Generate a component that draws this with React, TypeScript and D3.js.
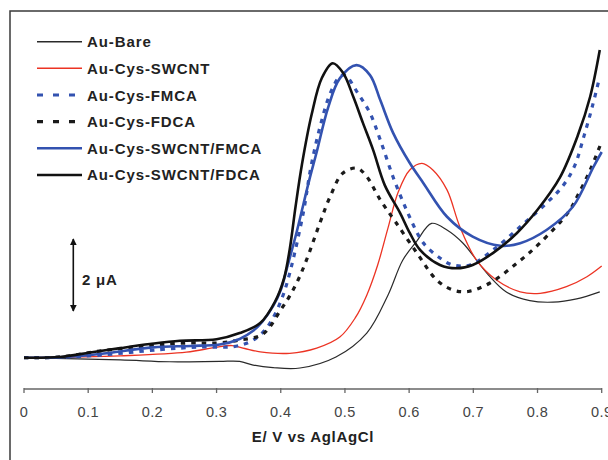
import React from "react";
import * as d3 from "d3";

type P = [number, number];

const xTicks = [0, 0.1, 0.2, 0.3, 0.4, 0.5, 0.6, 0.7, 0.8, 0.9];
const xTickLabels = ["0", "0.1", "0.2", "0.3", "0.4", "0.5", "0.6", "0.7", "0.8", "0.9"];

const seriesNames = [
  "Au-Bare",
  "Au-Cys-SWCNT",
  "Au-Cys-FMCA",
  "Au-Cys-FDCA",
  "Au-Cys-SWCNT/FMCA",
  "Au-Cys-SWCNT/FDCA",
];

// E (V vs Ag|AgCl), I (µA, relative)
const auBare: P[] = [
  [0, 0], [0.15, -0.06], [0.227, -0.11], [0.305, -0.1], [0.336, -0.1], [0.357, -0.2],
  [0.388, -0.27], [0.43, -0.28], [0.486, 0.02], [0.534, 0.67], [0.567, 1.7], [0.59, 2.65],
  [0.612, 3.17], [0.635, 3.65], [0.659, 3.47], [0.684, 3.11], [0.721, 2.3], [0.752, 1.78],
  [0.788, 1.55], [0.824, 1.51], [0.861, 1.6], [0.897, 1.79],
];
const auSwcnt: P[] = [
  [0, 0], [0.087, 0.02], [0.15, 0.05], [0.253, 0.15], [0.298, 0.28], [0.324, 0.33],
  [0.344, 0.25], [0.368, 0.16], [0.414, 0.12], [0.456, 0.26], [0.492, 0.56], [0.516, 1.08],
  [0.534, 1.7], [0.551, 2.52], [0.567, 3.52], [0.583, 4.5], [0.601, 5.1], [0.62, 5.28],
  [0.637, 5.1], [0.659, 4.56], [0.679, 3.56], [0.705, 2.65], [0.736, 2.11], [0.773, 1.79],
  [0.804, 1.75], [0.845, 1.93], [0.877, 2.2], [0.9, 2.49],
];
const auFmca: P[] = [
  [0, 0], [0.056, 0.01], [0.118, 0.07], [0.212, 0.22], [0.274, 0.29], [0.326, 0.3],
  [0.352, 0.43], [0.371, 0.67], [0.386, 1.02], [0.402, 1.62], [0.414, 2.3], [0.435, 3.93],
  [0.447, 5.18], [0.461, 6.26], [0.477, 7.18], [0.492, 7.64], [0.5, 7.68], [0.52, 7.19],
  [0.539, 6.65], [0.555, 5.92], [0.575, 4.91], [0.596, 4.01], [0.617, 3.25], [0.627, 3.02],
  [0.648, 2.71], [0.668, 2.52], [0.695, 2.52], [0.731, 2.93], [0.773, 3.56], [0.814, 4.2],
  [0.84, 4.68], [0.858, 5.22], [0.872, 6.0], [0.885, 6.8], [0.897, 7.64],
];
const auFdca: P[] = [
  [0, 0], [0.056, 0.02], [0.118, 0.18], [0.196, 0.33], [0.254, 0.4], [0.3, 0.4],
  [0.336, 0.48], [0.372, 0.64], [0.4, 1.3], [0.414, 1.68], [0.427, 2.11], [0.44, 2.65],
  [0.461, 3.66], [0.477, 4.38], [0.497, 5.02], [0.519, 5.15], [0.534, 4.92], [0.555, 4.29],
  [0.578, 3.71], [0.612, 2.85], [0.643, 2.11], [0.668, 1.84], [0.692, 1.8], [0.726, 2.03],
  [0.768, 2.57], [0.804, 3.12], [0.847, 3.93], [0.863, 4.42], [0.882, 5.1], [0.899, 5.83],
];
const auSwcntFmca: P[] = [
  [0, 0], [0.056, 0.01], [0.118, 0.1], [0.201, 0.28], [0.259, 0.32], [0.305, 0.36],
  [0.336, 0.51], [0.357, 0.73], [0.371, 0.97], [0.388, 1.4], [0.4, 1.84], [0.411, 2.52],
  [0.424, 3.36], [0.435, 4.15], [0.444, 4.8], [0.456, 5.59], [0.474, 6.81], [0.492, 7.59],
  [0.518, 7.95], [0.539, 7.68], [0.555, 7.0], [0.575, 6.11], [0.601, 5.29], [0.622, 4.75],
  [0.659, 3.83], [0.699, 3.29], [0.742, 3.04], [0.773, 3.11], [0.814, 3.47], [0.855, 4.1],
  [0.887, 5.18], [0.9, 5.59],
];
const auSwcntFdca: P[] = [
  [0, 0], [0.056, 0.02], [0.103, 0.14], [0.15, 0.26], [0.196, 0.37], [0.243, 0.46],
  [0.3, 0.5], [0.336, 0.67], [0.368, 0.94], [0.391, 1.52], [0.405, 2.15], [0.414, 2.95],
  [0.423, 4.1], [0.433, 5.25], [0.448, 6.6], [0.464, 7.6], [0.481, 8.0], [0.497, 7.74],
  [0.513, 7.09], [0.528, 6.38], [0.544, 5.64], [0.562, 4.69], [0.586, 3.93], [0.601, 3.39],
  [0.617, 2.93], [0.648, 2.52], [0.674, 2.43], [0.699, 2.52], [0.731, 2.85], [0.768, 3.39],
  [0.8, 4.02], [0.835, 4.9], [0.863, 6.05], [0.882, 7.09], [0.897, 8.36],
];

const seriesData: P[][] = [auBare, auSwcnt, auFmca, auFdca, auSwcntFmca, auSwcntFdca];
const seriesColors = ["#2a2a2a", "#ec3323", "#3352b0", "#1a1a1a", "#3352b0", "#111111"];
const seriesWidths = [1.2, 1.3, 3.2, 3.2, 2.6, 2.6];
const seriesDash = [null, null, "4.5,6", "4.5,6", null, null];
const legendDash = [null, null, "6,10", "6,10", null, null];

export default function App() {
  const W = 608;
  const H = 460;
  const x = d3.scaleLinear().domain([0, 0.9]).range([24, 601.7]);
  const y = d3.scaleLinear().domain([0, 8]).range([357.7, 63.3]);
  const line = d3
    .line<P>()
    .x((d) => x(d[0]))
    .y((d) => y(d[1]))
    .curve(d3.curveCatmullRom.alpha(0.5));

  const axisY = 389;
  const legendY0 = 41.7;
  const legendDy = 26.65;
  const font = "'Liberation Sans', Arial, Helvetica, sans-serif";

  return (
    <svg
      width={W}
      height={H}
      style={{ position: "absolute", left: 0, top: 0, background: "#fff" }}
      fontFamily={font}
    >
      <rect x={0} y={0} width={W} height={H} fill="#fff" />
      <rect x={10} y={11} width={W + 40} height={H + 40} fill="none" stroke="#3a3a3a" strokeWidth={1.5} />

      {/* curves */}
      {seriesData.map((d, i) => (
        <path
          key={seriesNames[i]}
          d={line(d) || ""}
          fill="none"
          stroke={seriesColors[i]}
          strokeWidth={seriesWidths[i]}
          strokeDasharray={seriesDash[i] || undefined}
          strokeLinejoin="round"
        />
      ))}

      {/* x axis */}
      <line x1={x(0)} x2={x(0.9)} y1={axisY} y2={axisY} stroke="#666" strokeWidth={1.5} />
      {xTicks.map((t, i) => (
        <g key={t}>
          <line x1={x(t)} x2={x(t)} y1={axisY - 1} y2={axisY + 4} stroke="#666" strokeWidth={1.3} />
          <text x={x(t)} y={417} textAnchor="middle" fontSize={14.5} letterSpacing={0.4} fill="#444">
            {xTickLabels[i]}
          </text>
        </g>
      ))}
      <text x={313} y={442} textAnchor="middle" fontSize={15} letterSpacing={0.7} fontWeight="bold" fill="#222">
        E/ V vs AglAgCl
      </text>

      {/* legend */}
      {seriesNames.map((n, i) => {
        const ly = legendY0 + i * legendDy;
        return (
          <g key={n}>
            <line
              x1={37}
              x2={82}
              y1={ly}
              y2={ly}
              stroke={seriesColors[i]}
              strokeWidth={i >= 2 ? (i >= 4 ? 2.6 : 3.2) : 1.5}
              strokeDasharray={legendDash[i] || undefined}
            />
            <text x={87} y={ly + 5.5} fontSize={15} letterSpacing={0.9} fontWeight="bold" fill="#222">
              {n}
            </text>
          </g>
        );
      })}

      {/* scale bar */}
      <defs>
        <marker id="ah" viewBox="0 0 10 10" refX="9" refY="5" markerWidth="4.5" markerHeight="4.5" orient="auto-start-reverse">
          <path d="M0,0 L10,5 L0,10 z" fill="#111" />
        </marker>
      </defs>
      <line x1={73.3} x2={73.3} y1={239} y2={311} stroke="#111" strokeWidth={1.6} markerStart="url(#ah)" markerEnd="url(#ah)" />
      <text x={82} y={284.5} fontSize={15} letterSpacing={0.8} fontWeight="bold" fill="#222">
        2 μA
      </text>
    </svg>
  );
}
